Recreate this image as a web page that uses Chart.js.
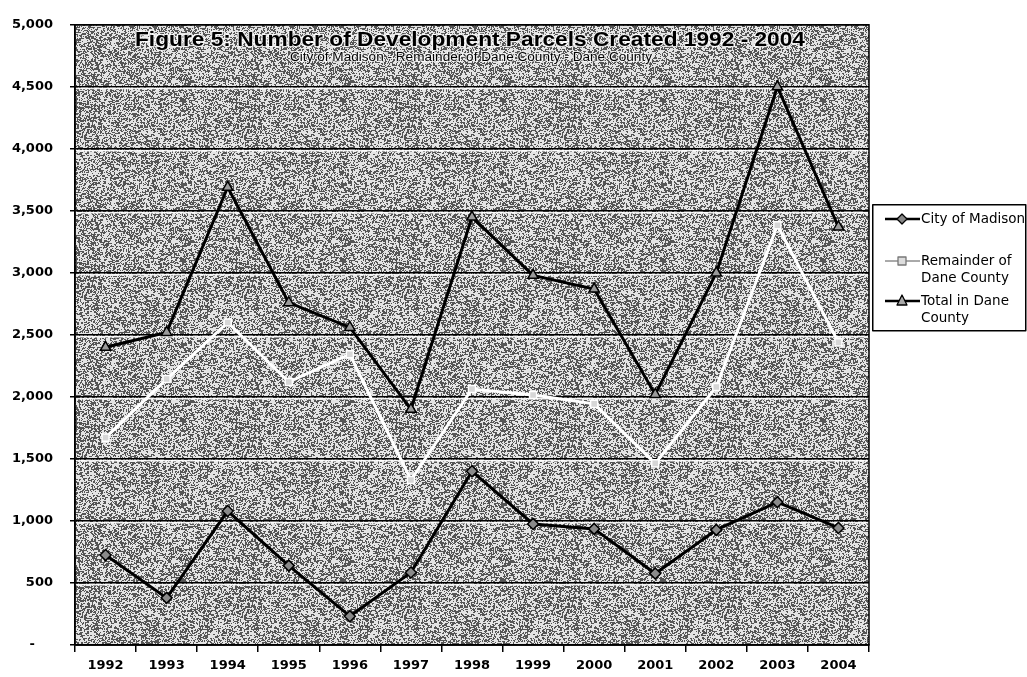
<!DOCTYPE html>
<html><head><meta charset="utf-8">
<script src="https://cdn.jsdelivr.net/npm/chart.js@4.4.1/dist/chart.umd.min.js"></script>
<style>html,body{margin:0;padding:0;background:#fff;overflow:hidden}#wrap{position:relative;width:1027px;height:677px}</style>
</head><body><div id="wrap"><canvas id="c" width="1027" height="677"></canvas></div>
<script>
const years = ['1992','1993','1994','1995','1996','1997','1998','1999','2000','2001','2002','2003','2004'];
const cityOfMadison = [725, 380, 1080, 640, 232, 585, 1400, 976, 936, 576, 928, 1152, 944];
const remainderOfDane = [1672, 2144, 2600, 2120, 2344, 1330, 2064, 2016, 1944, 1464, 2080, 3384, 2440];
const totalDane = [2400, 2520, 3690, 2760, 2560, 1900, 3450, 2980, 2870, 2020, 3000, 4500, 3370];
const yTickLabels = ['-\u2007\u2007','500','1,000','1,500','2,000','2,500','3,000','3,500','4,000','4,500','5,000'];
const seriesNames = ['City of Madison','Remainder of Dane County','Total in Dane County'];
const legendLines = [['City of Madison'],['Remainder of','Dane County'],['Total in Dane','County']];
const titleText = 'Figure 5: Number of Development Parcels Created 1992 - 2004';
const subtitleText = 'City of Madison - Remainder of Dane County - Dane County';

function makeDither(){
  const n=160, c=document.createElement('canvas'); c.width=c.height=n;
  const g=c.getContext('2d'); const img=g.createImageData(n,n);
  let s=987654321; const r=new Float32Array(n*n);
  for(let i=0;i<n*n;i++){ s=(Math.imul(s,1103515245)+12345)>>>0; r[i]=((s>>>16)&1023)/1023; }
  const b=new Float32Array(n*n);
  for(let y=0;y<n;y++)for(let x=0;x<n;x++){
    b[y*n+x]=r[y*n+x]*3 + r[y*n+((x+1)%n)] + r[((y+1)%n)*n+x]*0.6;
  }
  const sorted=Array.from(b).sort((p,q)=>p-q); const thr=sorted[Math.floor(n*n*0.45)];
  for(let i=0;i<n*n;i++){
    const col = b[i]<thr ? 85 : 228;
    img.data[i*4]=img.data[i*4+1]=img.data[i*4+2]=col; img.data[i*4+3]=255;
  }
  g.putImageData(img,0,0);
  return c;
}
const ditherCanvas = makeDither();

function fitText(ctx, text, cx, y, width){
  const w = ctx.measureText(text).width;
  ctx.save(); ctx.translate(cx, y); ctx.scale(width/w, 1);
  ctx.strokeText(text, 0, 0); ctx.fillText(text, 0, 0);
  ctx.restore();
}

const bgPlugin = {
  id:'bg',
  beforeDraw(chart){
    const {ctx, chartArea:a} = chart;
    ctx.save();
    ctx.fillStyle = ctx.createPattern(ditherCanvas,'repeat');
    ctx.fillRect(a.left,a.top,a.right-a.left,a.bottom-a.top);
    ctx.restore();
  },
  beforeDatasetsDraw(chart){
    const {ctx, chartArea:a, scales} = chart;
    ctx.save();
    ctx.strokeStyle='rgba(255,255,255,0.9)'; ctx.lineWidth=1.5;
    scales.y.ticks.forEach(t=>{
      const y=scales.y.getPixelForValue(t.value);
      if(y<a.bottom-2 && y>a.top+2){ctx.beginPath();ctx.moveTo(a.left+1,y+1.8);ctx.lineTo(a.right-1,y+1.8);ctx.stroke();}
    });
    ctx.strokeStyle='#000'; ctx.lineWidth=1.5;
    ctx.strokeRect(a.left,a.top,a.right-a.left,a.bottom-a.top);
    ctx.restore();
  },
  afterDraw(chart){
    const {ctx} = chart;
    ctx.save();
    ctx.textAlign='center'; ctx.textBaseline='alphabetic';
    ctx.lineJoin='round';
    ctx.strokeStyle='rgba(255,255,255,0.8)'; ctx.fillStyle='#000';
    ctx.font='bold 20px "Liberation Sans", Arial, sans-serif';
    ctx.lineWidth=2.5;
    fitText(ctx, titleText, 470, 46, 670);
    ctx.font='12px "Liberation Sans", Arial, sans-serif';
    ctx.lineWidth=2;
    fitText(ctx, subtitleText, 471, 61, 362);
    // legend
    ctx.fillStyle='#fff'; ctx.fillRect(872,204,154,127);
    ctx.strokeStyle='#000'; ctx.lineWidth=1.5; ctx.strokeRect(872.75,204.75,153,126);
    const ys=[219,261,301];
    ctx.font='13.5px "DejaVu Sans", sans-serif'; ctx.textAlign='left'; ctx.textBaseline='middle'; ctx.fillStyle='#000';
    legendLines.forEach((lines,i)=>{
      const y=ys[i];
      ctx.beginPath(); ctx.moveTo(885,y); ctx.lineTo(920,y);
      ctx.strokeStyle= i===1 ? '#555' : '#000'; ctx.lineWidth= i===1 ? 1 : 2.5; ctx.stroke();
      ctx.lineWidth=1.3;
      if(i===0){ctx.beginPath();ctx.moveTo(902,y-5);ctx.lineTo(907,y);ctx.lineTo(902,y+5);ctx.lineTo(897,y);ctx.closePath();ctx.fillStyle='#888';ctx.fill();ctx.strokeStyle='#000';ctx.stroke();}
      if(i===1){ctx.fillStyle='#ddd';ctx.fillRect(898,y-4,8,8);ctx.strokeStyle='#777';ctx.strokeRect(898,y-4,8,8);}
      if(i===2){ctx.beginPath();ctx.moveTo(902,y-6);ctx.lineTo(907,y+4);ctx.lineTo(897,y+4);ctx.closePath();ctx.fillStyle='#aaa';ctx.fill();ctx.strokeStyle='#000';ctx.stroke();}
      ctx.fillStyle='#000';
      lines.forEach((t,k)=>ctx.fillText(t,921,y+k*17));
    });
    ctx.restore();
  }
};

new Chart(document.getElementById('c'), {
  type:'line',
  data:{
    labels: years,
    datasets:[
      {label:seriesNames[0], data:cityOfMadison, borderColor:'#000', borderWidth:3, pointStyle:'rectRot', pointRadius:5.5, pointBackgroundColor:'#8a8a8a', pointBorderColor:'#000', pointBorderWidth:1.5, tension:0, order:1},
      {label:seriesNames[1], data:remainderOfDane, borderColor:'#ffffff', borderWidth:3, pointStyle:'rect', pointRadius:5, pointBackgroundColor:'#d6d6d6', pointBorderColor:'#fff', pointBorderWidth:1.5, tension:0, order:3},
      {label:seriesNames[2], data:totalDane, borderColor:'#000', borderWidth:3, pointStyle:'triangle', pointRadius:6, pointBackgroundColor:'#9a9a9a', pointBorderColor:'#000', pointBorderWidth:1.5, tension:0, order:2}
    ]
  },
  options:{
    responsive:false, animation:false, devicePixelRatio:1, events:[],
    layout:{padding:{left:0, top:21, right:158, bottom:0}},
    plugins:{legend:{display:false}, tooltip:{enabled:false}, title:{display:false}},
    scales:{
      x:{type:'category', offset:true,
         grid:{offset:true, drawOnChartArea:false, drawTicks:true, tickLength:7, color:'#000', lineWidth:1.5},
         border:{display:true, color:'#000', width:1.5},
         ticks:{color:'#000', font:{family:'"DejaVu Sans", sans-serif', weight:'bold', size:13}, padding:6, maxRotation:0, autoSkip:false},
         afterFit:(s)=>{s.height=32;}},
      y:{min:0, max:5000,
         ticks:{stepSize:500, color:'#000', font:{family:'"DejaVu Sans", sans-serif', weight:'bold', size:13}, padding:17,
                callback:(v,i)=>yTickLabels[i]},
         grid:{color:'#000', lineWidth:1.5, tickLength:5},
         border:{display:true, color:'#000', width:1.5},
         afterFit:(s)=>{s.width=75;}}
    }
  },
  plugins:[bgPlugin]
});
</script></body></html>
